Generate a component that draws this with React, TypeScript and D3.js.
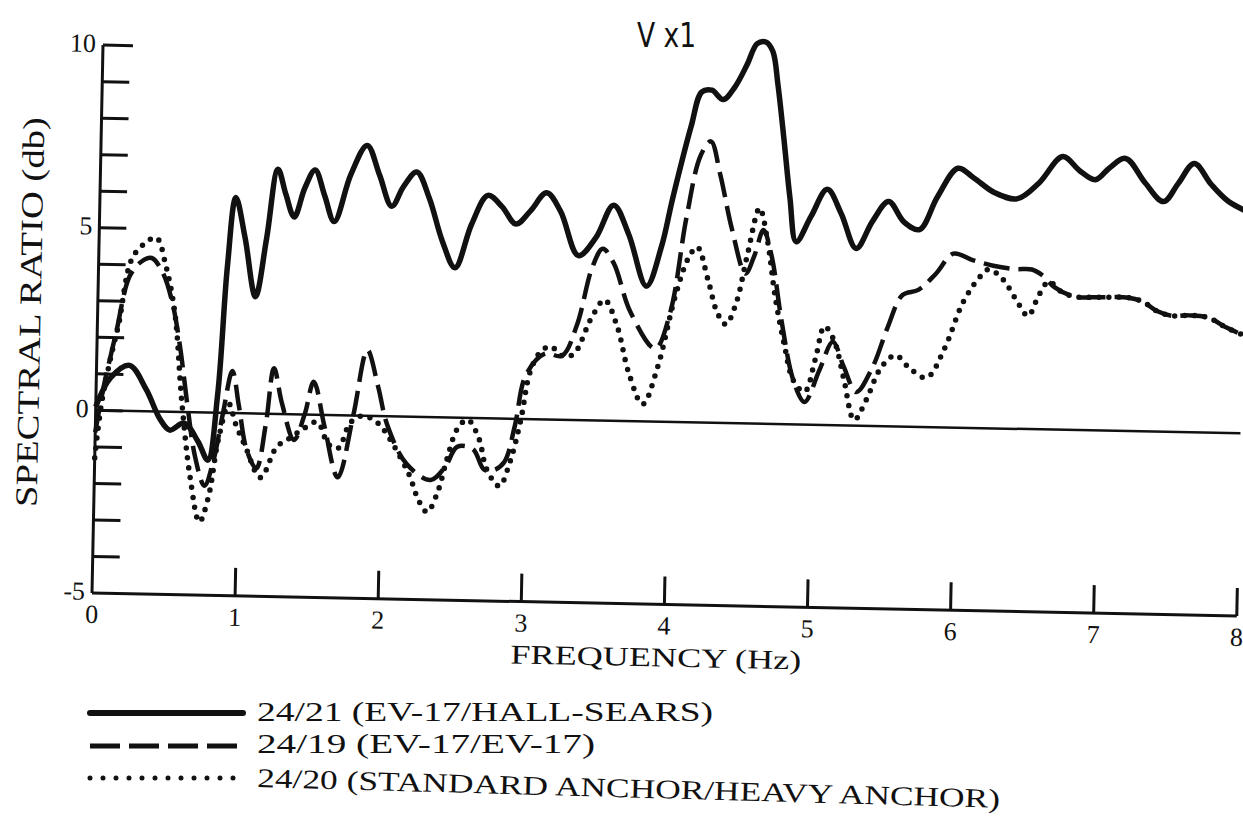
import React from "react";
import * as d3 from "d3";

// ---- data (frequency in Hz, spectral ratio in dB) ----
const solidSeries: [number, number][] = [
  [0, 0.1], [0.1, 0.9], [0.23, 1.25], [0.35, 0.6], [0.45, -0.2], [0.52, -0.5],
  [0.62, -0.3], [0.72, -0.8], [0.79, -1.3], [0.85, 0.5], [0.9, 4.0], [0.95, 5.9],
  [1.02, 4.8], [1.1, 3.2], [1.17, 4.8], [1.24, 6.7], [1.3, 6.0], [1.36, 5.4],
  [1.43, 6.2], [1.5, 6.7], [1.57, 6.0], [1.64, 5.3], [1.75, 6.6], [1.86, 7.4],
  [1.95, 6.6], [2.04, 5.75], [2.12, 6.3], [2.21, 6.7], [2.3, 6.0], [2.4, 4.8],
  [2.49, 4.1], [2.6, 5.3], [2.71, 6.1], [2.81, 5.8], [2.91, 5.33], [3.01, 5.7],
  [3.12, 6.2], [3.22, 5.7], [3.35, 4.5], [3.47, 5.0], [3.59, 5.9], [3.7, 5.1],
  [3.83, 3.7], [3.93, 4.8], [4.0, 6.1], [4.12, 8.1], [4.19, 9.05], [4.26, 9.1],
  [4.34, 8.85], [4.42, 9.2], [4.5, 9.8], [4.57, 10.4], [4.63, 10.45], [4.68, 10.2],
  [4.72, 9.3], [4.77, 7.8], [4.82, 6.2], [4.87, 5.0], [4.97, 5.7], [5.08, 6.45],
  [5.18, 5.8], [5.29, 4.85], [5.4, 5.6], [5.51, 6.15], [5.62, 5.6], [5.73, 5.4],
  [5.85, 6.3], [5.99, 7.1], [6.1, 6.85], [6.25, 6.45], [6.41, 6.3], [6.56, 6.75],
  [6.72, 7.48], [6.84, 7.1], [6.95, 6.86], [7.05, 7.2], [7.16, 7.46], [7.3, 6.8],
  [7.43, 6.3], [7.53, 6.8], [7.64, 7.36], [7.76, 6.8], [7.88, 6.35], [8.0, 6.1],
];

const dashedSeries: [number, number][] = [
  [0, -0.6], [0.05, 0.6], [0.13, 2.1], [0.22, 3.7], [0.3, 4.1], [0.37, 4.2],
  [0.45, 3.8], [0.52, 3.0], [0.58, 1.8], [0.64, 0.2], [0.7, -1.2], [0.77, -2.0],
  [0.83, -1.3], [0.89, 0.0], [0.95, 1.15], [1.0, 0.2], [1.06, -1.0], [1.13, -1.5],
  [1.19, -0.3], [1.24, 1.25], [1.3, 0.3], [1.39, -0.7], [1.46, 0.0], [1.52, 0.9],
  [1.6, -0.3], [1.7, -1.7], [1.8, 0.0], [1.89, 1.8], [1.97, 0.8], [2.04, -0.25],
  [2.18, -1.3], [2.35, -1.72], [2.45, -1.35], [2.53, -0.8], [2.64, -0.85], [2.72, -1.4],
  [2.78, -1.43], [2.86, -1.2], [2.93, -0.2], [3.0, 1.2], [3.13, 1.8], [3.25, 1.75],
  [3.35, 2.6], [3.45, 4.2], [3.52, 4.7], [3.6, 4.3], [3.72, 3.0], [3.9, 2.0],
  [4.0, 3.0], [4.1, 5.6], [4.19, 7.3], [4.26, 7.7], [4.33, 6.8], [4.42, 5.3],
  [4.52, 4.1], [4.58, 4.6], [4.64, 5.3], [4.7, 4.6], [4.78, 2.8], [4.87, 1.2],
  [4.95, 0.62], [5.05, 1.5], [5.14, 2.28], [5.22, 1.6], [5.31, 0.92], [5.42, 1.6],
  [5.52, 2.7], [5.62, 3.6], [5.73, 3.75], [5.85, 4.2], [5.97, 4.76], [6.1, 4.6],
  [6.25, 4.45], [6.4, 4.37], [6.52, 4.37], [6.6, 4.2], [6.68, 3.9], [6.82, 3.65],
  [7.0, 3.65], [7.2, 3.65], [7.3, 3.55], [7.4, 3.3], [7.5, 3.18], [7.62, 3.2],
  [7.76, 3.15], [7.88, 2.9], [8.0, 2.7],
];

const dottedSeries: [number, number][] = [
  [0, -1.3], [0.04, 0.2], [0.1, 1.5], [0.15, 2.4], [0.23, 4.15], [0.32, 4.6],
  [0.4, 4.76], [0.47, 4.0], [0.54, 2.7], [0.6, 0.3], [0.67, -1.8], [0.74, -3.0],
  [0.8, -2.3], [0.86, -0.75], [0.93, 0.25], [0.98, -0.3], [1.05, -0.9], [1.16, -1.75],
  [1.27, -0.9], [1.36, -0.65], [1.45, -0.4], [1.55, -0.2], [1.63, -0.8], [1.7, -0.9],
  [1.78, -0.2], [1.87, 0.0], [1.94, -0.1], [2.0, -0.3], [2.08, -0.75], [2.2, -1.6],
  [2.27, -2.3], [2.33, -2.6], [2.4, -2.05], [2.46, -1.15], [2.53, -0.3], [2.6, -0.05],
  [2.68, -0.55], [2.74, -1.4], [2.83, -1.85], [2.9, -1.2], [2.97, -0.05], [3.03, 1.3],
  [3.1, 1.85], [3.17, 2.0], [3.25, 1.75], [3.33, 1.8], [3.45, 2.8], [3.54, 3.3],
  [3.63, 2.6], [3.72, 1.3], [3.82, 0.47], [3.92, 1.5], [4.03, 3.4], [4.12, 4.5],
  [4.18, 4.8], [4.26, 3.9], [4.33, 3.0], [4.39, 2.7], [4.46, 3.3], [4.53, 4.6],
  [4.61, 5.9], [4.67, 5.0], [4.73, 3.5], [4.8, 2.2], [4.87, 1.2], [4.95, 0.9],
  [5.02, 1.8], [5.08, 2.7], [5.15, 2.3], [5.22, 1.3], [5.3, 0.15], [5.38, 0.7],
  [5.48, 1.6], [5.58, 1.95], [5.68, 1.6], [5.8, 1.35], [5.92, 2.15], [6.04, 3.4],
  [6.15, 4.1], [6.22, 4.35], [6.32, 4.08], [6.41, 3.56], [6.5, 3.1], [6.57, 3.65],
  [6.64, 4.05], [6.72, 3.8], [6.82, 3.65], [7.0, 3.65], [7.2, 3.65], [7.3, 3.55],
  [7.4, 3.3], [7.5, 3.18], [7.62, 3.2], [7.76, 3.15], [7.88, 2.9], [8.0, 2.7],
];

const xTickLabels = [0, 1, 2, 3, 4, 5, 6, 7, 8];
const yTickLabels = [-5, 0, 5, 10];
const legendLabels = [
  "24/21 (EV-17/HALL-SEARS)",
  "24/19 (EV-17/EV-17)",
  "24/20 (STANDARD ANCHOR/HEAVY ANCHOR)",
];

// ---- layout ----
const W = 1243;
const H = 818;
const X0 = 92;
const Y0 = 593;
const ROT = 1.15;

export default function App() {
  const x = d3.scaleLinear().domain([0, 8]).range([X0, 1237]);
  const y = d3.scaleLinear().domain([-5, 10]).range([Y0, 45]);
  const line = d3
    .line<[number, number]>()
    .x((d) => x(d[0]))
    .y((d) => y(d[1]))
    .curve(d3.curveCatmullRom.alpha(0.5));

  const minorY = y.ticks(15).filter((v) => v > -5);
  const serif = "'Liberation Serif', 'DejaVu Serif', serif";

  const legendStyles = [
    { dash: undefined, width: 6, cap: "round" as const },
    { dash: "30 9", width: 5, cap: "butt" as const },
    { dash: "0 13", width: 5, cap: "round" as const },
  ];
  const legendY = [713, 746, 778];
  const legendBase = [721, 753, 787];
  const legendLen = [456, 338, 743];

  return (
    <svg
      width={W}
      height={H}
      viewBox={`0 0 ${W} ${H}`}
      style={{ position: "absolute", left: 0, top: 0, background: "#fff" }}
    >
      <rect x={0} y={0} width={W} height={H} fill="#fff" />
      <g transform={`rotate(${ROT}, ${X0}, ${Y0})`} fill="none" stroke="#111">
        {/* axes */}
        <line x1={X0} y1={y(-5)} x2={X0} y2={y(10)} strokeWidth={3} />
        <line x1={X0} y1={Y0} x2={x(8)} y2={Y0} strokeWidth={3} />
        {minorY.map((v) => (
          <line
            key={"yt" + v}
            x1={X0}
            x2={X0 + (v === 10 ? 30 : 27)}
            y1={y(v)}
            y2={y(v)}
            strokeWidth={3}
          />
        ))}
        {xTickLabels
          .filter((v) => v > 0)
          .map((v) => (
            <line key={"xt" + v} x1={x(v)} x2={x(v)} y1={Y0} y2={Y0 - 28} strokeWidth={3} />
          ))}
        {/* zero reference */}
        <line x1={X0} x2={x(8)} y1={y(0)} y2={y(0)} strokeWidth={2.5} />

        {/* series */}
        <path d={line(solidSeries) || ""} strokeWidth={5.5} strokeLinejoin="round" />
        <path d={line(dashedSeries) || ""} strokeWidth={4.5} strokeDasharray="26 9" />
        <path
          d={line(dottedSeries) || ""}
          strokeWidth={5.5}
          strokeDasharray="0 10"
          strokeLinecap="round"
        />

        {/* tick labels */}
        {yTickLabels.map((v) => (
          <text
            key={"yl" + v}
            x={X0 - 7}
            y={y(v) + 7}
            textAnchor="end"
            fontFamily={serif}
            fontSize={26}
            fill="#111"
            stroke="none"
          >
            {v}
          </text>
        ))}
        {xTickLabels.map((v) => (
          <text
            key={"xl" + v}
            x={x(v)}
            y={Y0 + 30}
            textAnchor="middle"
            fontFamily={serif}
            fontSize={26}
            fill="#111"
            stroke="none"
          >
            {v}
          </text>
        ))}
        <text
          x={657}
          y={Y0 + 62}
          textAnchor="middle"
          fontFamily={serif}
          fontSize={27}
          textLength={291}
          lengthAdjust="spacingAndGlyphs"
          fill="#111"
          stroke="none"
        >
          FREQUENCY (Hz)
        </text>
      </g>

      <text
        transform={`translate(30, 312) rotate(-88.85)`}
        textAnchor="middle"
        dominantBaseline="central"
        fontFamily={serif}
        fontSize={31}
        textLength={390}
        lengthAdjust="spacingAndGlyphs"
        fill="#111"
      >
        SPECTRAL RATIO (db)
      </text>

      <text
        x={637}
        y={47}
        fontFamily="'Liberation Sans Narrow', 'DejaVu Sans Condensed', 'Liberation Sans', sans-serif"
        fontSize={33}
        textLength={59}
        lengthAdjust="spacingAndGlyphs"
        fill="#111"
      >
        V x1
      </text>

      {/* legend */}
      {legendLabels.map((lab, i) => (
        <g key={"lg" + i}>
          <line
            x1={90}
            x2={243}
            y1={legendY[i]}
            y2={legendY[i]}
            stroke="#111"
            strokeWidth={legendStyles[i].width}
            strokeDasharray={legendStyles[i].dash}
            strokeLinecap={legendStyles[i].cap}
          />
          <text
            x={257}
            y={legendBase[i]}
            transform={i === 2 ? `rotate(1.6, 257, ${legendBase[i]})` : undefined}
            fontFamily={serif}
            fontSize={27}
            textLength={legendLen[i]}
            lengthAdjust="spacingAndGlyphs"
            fill="#111"
          >
            {lab}
          </text>
        </g>
      ))}
    </svg>
  );
}
